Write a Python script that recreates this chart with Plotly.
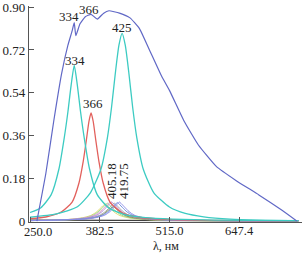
import plotly.graph_objects as go

# ---- data ----
blue_x = [263, 280, 295, 310, 322, 330, 334, 337, 345, 355, 366, 378, 390, 400, 420, 440, 458, 477, 500, 515, 543, 570, 604, 642, 685, 729, 757]
blue_y = [0.0, 0.20, 0.42, 0.62, 0.74, 0.80, 0.835, 0.78, 0.83, 0.86, 0.87, 0.85, 0.875, 0.885, 0.875, 0.855, 0.81, 0.72, 0.61, 0.55, 0.42, 0.32, 0.23, 0.17, 0.11, 0.045, 0.0]

cyan1_x = [250, 270, 290, 305, 315, 322, 328, 334, 340, 346, 353, 363, 378, 400, 430, 470, 520, 600, 760]
cyan1_y = [0.036, 0.055, 0.11, 0.22, 0.35, 0.46, 0.57, 0.655, 0.57, 0.46, 0.35, 0.22, 0.11, 0.055, 0.027, 0.014, 0.008, 0.004, 0.002]

cyan2_x = [250, 300, 340, 365, 385, 397, 405, 412, 419, 425, 431, 438, 445, 453, 465, 485, 515, 545, 580, 630, 680, 760]
cyan2_y = [0.016, 0.030, 0.06, 0.12, 0.22, 0.35, 0.48, 0.62, 0.74, 0.79, 0.74, 0.62, 0.48, 0.35, 0.22, 0.12, 0.059, 0.032, 0.018, 0.008, 0.004, 0.002]

red_x = [250, 280, 310, 330, 343, 351, 357, 362, 366, 370, 375, 381, 389, 402, 425, 460, 520, 600, 760]
red_y = [0.01, 0.017, 0.039, 0.08, 0.16, 0.25, 0.34, 0.42, 0.455, 0.42, 0.34, 0.25, 0.16, 0.08, 0.035, 0.015, 0.006, 0.003, 0.001]

small_x1 = [250, 300, 330, 350, 365, 375, 383, 389, 393, 397, 403, 411, 421, 436, 456, 486, 536, 636, 760]
small_y1 = [0.002, 0.004, 0.008, 0.014, 0.023, 0.036, 0.052, 0.065, 0.072, 0.065, 0.052, 0.036, 0.023, 0.014, 0.008, 0.005, 0.003, 0.001, 0.001]
small_x2 = [250, 300, 334, 354, 369, 379, 387, 393, 397, 401, 407, 415, 425, 440, 460, 490, 540, 640, 760]
small_y2 = [0.002, 0.004, 0.008, 0.014, 0.024, 0.038, 0.054, 0.068, 0.075, 0.068, 0.054, 0.038, 0.024, 0.014, 0.008, 0.005, 0.003, 0.001, 0.001]
small_x3 = [250, 300, 338, 358, 373, 383, 391, 397, 401, 405, 411, 419, 429, 444, 464, 494, 544, 644, 760]
small_y3 = [0.002, 0.004, 0.009, 0.015, 0.025, 0.039, 0.056, 0.070, 0.078, 0.070, 0.056, 0.039, 0.025, 0.015, 0.009, 0.005, 0.003, 0.001, 0.001]
small_x4 = [250, 300, 342, 362, 377, 387, 395, 401, 405.18, 409, 415, 423, 433, 448, 468, 498, 548, 648, 760]
small_y4 = [0.002, 0.004, 0.009, 0.015, 0.025, 0.040, 0.058, 0.072, 0.080, 0.072, 0.058, 0.040, 0.025, 0.015, 0.009, 0.005, 0.003, 0.001, 0.001]
small_x5 = [250, 300, 345, 365, 380, 390, 398, 404, 408, 412, 418, 426, 436, 451, 471, 501, 551, 651, 760]
small_y5 = [0.002, 0.003, 0.007, 0.012, 0.019, 0.030, 0.044, 0.055, 0.060, 0.055, 0.044, 0.030, 0.019, 0.012, 0.007, 0.004, 0.002, 0.001, 0.001]
small_x6 = [250, 300, 347, 367, 382, 392, 400, 406, 410, 414, 420, 428, 438, 453, 473, 503, 553, 653, 760]
small_y6 = [0.002, 0.004, 0.008, 0.014, 0.024, 0.038, 0.054, 0.068, 0.075, 0.068, 0.054, 0.038, 0.024, 0.014, 0.008, 0.005, 0.003, 0.001, 0.001]
small_x7 = [250, 300, 353, 373, 388, 398, 406, 412, 416, 420, 426, 434, 444, 459, 479, 509, 559, 659, 760]
small_y7 = [0.002, 0.004, 0.009, 0.015, 0.025, 0.039, 0.056, 0.070, 0.078, 0.070, 0.056, 0.039, 0.025, 0.015, 0.009, 0.005, 0.003, 0.001, 0.001]
small_x8 = [250, 300, 357, 377, 392, 402, 410, 416, 419.75, 424, 430, 438, 448, 463, 483, 513, 563, 663, 760]
small_y8 = [0.002, 0.004, 0.009, 0.015, 0.025, 0.040, 0.058, 0.072, 0.080, 0.072, 0.058, 0.040, 0.025, 0.015, 0.009, 0.005, 0.003, 0.001, 0.001]

base_x = [250, 300, 390, 500, 760]
base_y = [0.004, 0.004, 0.004, 0.002, 0.001]

small_series = [
    (small_x1, small_y1, "#e0dc70"),
    (small_x2, small_y2, "#98dc8c"),
    (small_x3, small_y3, "#e8a6c8"),
    (small_x4, small_y4, "#b088d8"),
    (small_x5, small_y5, "#8a9a50"),
    (small_x6, small_y6, "#a0a0a8"),
    (small_x7, small_y7, "#6f8ee0"),
    (small_x8, small_y8, "#8c8ce8"),
]

x_ticks = [250, 382.5, 515, 647.4]
x_ticktext = ["", "382.5", "515.0", "647.4"]
x_first_label = "250.0"
y_ticks = [0, 0.18, 0.36, 0.54, 0.72, 0.90]
y_ticktext = ["0", "0.18", "0.36", "0.54", "0.72", "0.90"]
x_title = "λ, нм"

labels = [
    ("334", 324, 0.86, 0),
    ("366", 362, 0.89, 0),
    ("425", 424, 0.815, 0),
    ("334", 335, 0.675, 0),
    ("366", 370, 0.494, 0),
    ("405.18", 405, 0.167, -90),
    ("419.75", 428, 0.167, -90),
]

BLUE = "#6068c6"
CYAN = "#3ccbc2"
RED = "#e2605c"
FONT = "Liberation Serif, Times New Roman, serif"

fig = go.Figure()
fig.add_trace(go.Scatter(x=base_x, y=base_y, mode="lines", line=dict(color="#404040", width=1.2)))
for sx, sy, c in small_series:
    fig.add_trace(go.Scatter(x=sx, y=sy, mode="lines", line=dict(color=c, width=1, shape="spline", smoothing=0.6)))
fig.add_trace(go.Scatter(x=red_x, y=red_y, mode="lines", line=dict(color=RED, width=1.3, shape="spline", smoothing=0.6)))
fig.add_trace(go.Scatter(x=cyan1_x, y=cyan1_y, mode="lines", line=dict(color=CYAN, width=1.3, shape="spline", smoothing=0.6)))
fig.add_trace(go.Scatter(x=cyan2_x, y=cyan2_y, mode="lines", line=dict(color=CYAN, width=1.3, shape="spline", smoothing=0.6)))
fig.add_trace(go.Scatter(x=blue_x, y=blue_y, mode="lines", line=dict(color=BLUE, width=1.2, shape="spline", smoothing=0.4)))

for t, x, y, ang in labels:
    fig.add_annotation(x=x, y=y, text=t, showarrow=False, textangle=ang,
                       font=dict(family=FONT, size=13, color="#222222"))

# first x tick label sits a little right of its tick, as in the reference
fig.add_annotation(x=x_ticks[0], xref="x", yref="paper", y=-0.048, yanchor="middle",
                   xshift=8, text=x_first_label, showarrow=False, borderpad=0,
                   font=dict(family=FONT, size=12.5, color="#222222"))

fig.add_annotation(xref="paper", yref="paper", x=0.5, y=-0.146, yanchor="bottom",
                   text=x_title, showarrow=False, borderpad=0,
                   font=dict(family=FONT, size=12, color="#222222"))

fig.update_layout(
    width=302, height=254,
    margin=dict(l=29, r=0, t=6, b=32),
    paper_bgcolor="white", plot_bgcolor="white",
    showlegend=False,
    font=dict(family=FONT, size=13, color="#222222"),
    xaxis=dict(range=[248, 767], tickvals=x_ticks, ticktext=x_ticktext,
               ticks="inside", ticklen=5, tickcolor="#555555",
               ticklabeloverflow="allow", tickfont=dict(size=12.5),
               ticklabelstandoff=-3,
               showline=True, linecolor="#555555", linewidth=1.2,
               showgrid=False, zeroline=False),
    yaxis=dict(range=[-0.004, 0.905], tickvals=y_ticks, ticktext=y_ticktext,
               ticks="inside", ticklen=5, tickcolor="#555555",
               ticklabeloverflow="allow",
               showline=True, linecolor="#555555", linewidth=1.2,
               showgrid=False, zeroline=False),
)

fig.write_html("out.html")
